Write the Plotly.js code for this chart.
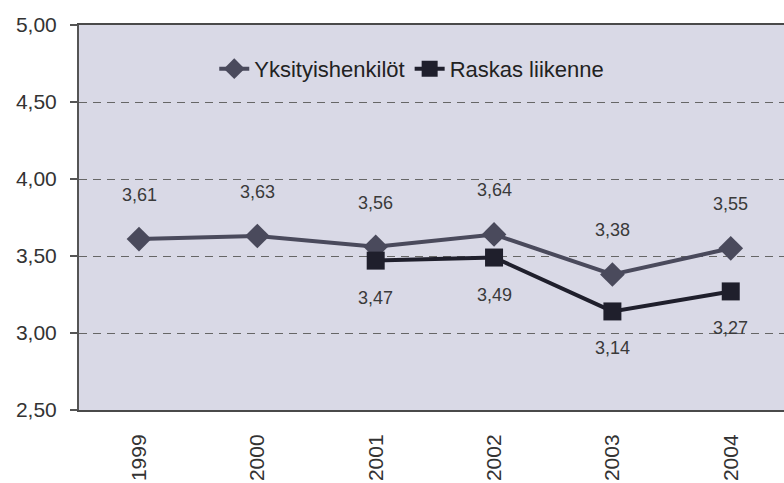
<!DOCTYPE html>
<html>
<head>
<meta charset="utf-8">
<script src="https://cdn.plot.ly/plotly-3.0.1.min.js"></script>
<style>html,body{margin:0;padding:0;background:#fff;}#chart{width:784px;height:483px;}</style>
</head>
<body>
<div id="chart"></div>
<script>
var years = ["1999", "2000", "2001", "2002", "2003", "2004"];
var yksityisYears = ["1999", "2000", "2001", "2002", "2003", "2004"];
var yksityisValues = [3.61, 3.63, 3.56, 3.64, 3.38, 3.55];
var raskasYears = ["2001", "2002", "2003", "2004"];
var raskasValues = [3.47, 3.49, 3.14, 3.27];
var yTickVals = [2.5, 3.0, 3.5, 4.0, 4.5, 5.0];
var yTickText = ["2,50", "3,00", "3,50", "4,00", "4,50", "5,00"];

function fmt(v) { return v.toFixed(2).replace(".", ","); }

var sans = "Liberation Sans, Arial, sans-serif";

var traces = [
  {
    x: yksityisYears, y: yksityisValues, name: "Yksityishenkilöt",
    type: "scatter", mode: "lines+markers",
    line: {color: "#4a4a5c", width: 4},
    marker: {symbol: "diamond", size: 19, color: "#4a4a5c"}
  },
  {
    x: raskasYears, y: raskasValues, name: "Raskas liikenne",
    type: "scatter", mode: "lines+markers",
    line: {color: "#1f1f2c", width: 4},
    marker: {symbol: "square", size: 18, color: "#1f1f2c"}
  }
];

var annotations = [];
yksityisYears.forEach(function (yr, i) {
  annotations.push({x: years.indexOf(yr), y: yksityisValues[i], xref: "x", yref: "y", text: fmt(yksityisValues[i]),
    showarrow: false, yshift: 44, font: {family: sans, size: 18, color: "#3a3a3a"}});
});
raskasYears.forEach(function (yr, i) {
  annotations.push({x: years.indexOf(yr), y: raskasValues[i], xref: "x", yref: "y", text: fmt(raskasValues[i]),
    showarrow: false, yshift: -37, font: {family: sans, size: 18, color: "#3a3a3a"}});
});

var layout = {
  width: 784, height: 483,
  margin: {l: 79, r: 0, t: 25, b: 73},
  paper_bgcolor: "#ffffff",
  plot_bgcolor: "#d9d9e6",
  showlegend: true,
  legend: {orientation: "h", x: 0.472, xanchor: "center", y: 0.886, yanchor: "middle",
    bgcolor: "rgba(0,0,0,0)", font: {family: sans, size: 22, color: "#222"}},
  xaxis: {
    type: "category", categoryorder: "array", categoryarray: years,
    range: [-0.507, 5.45],
    showgrid: false, zeroline: false,
    showline: true, linecolor: "#4a4a4a", linewidth: 2, mirror: true,
    ticks: "", tickangle: -90, ticklabelstandoff: 14,
    tickfont: {family: sans, size: 21, color: "#333"}
  },
  yaxis: {
    range: [2.5, 5.0], tickvals: yTickVals, ticktext: yTickText,
    showgrid: true, gridcolor: "#666", gridwidth: 1, griddash: "8px,6px",
    zeroline: false, showline: true, linecolor: "#555", linewidth: 2,
    ticks: "outside", ticklen: 7, tickcolor: "#555", tickwidth: 1.5,
    ticklabelstandoff: 9,
    tickfont: {family: sans, size: 21, color: "#333"}
  },
  annotations: annotations
};

Plotly.newPlot("chart", traces, layout, {displayModeBar: false, staticPlot: true});
</script>
</body>
</html>
